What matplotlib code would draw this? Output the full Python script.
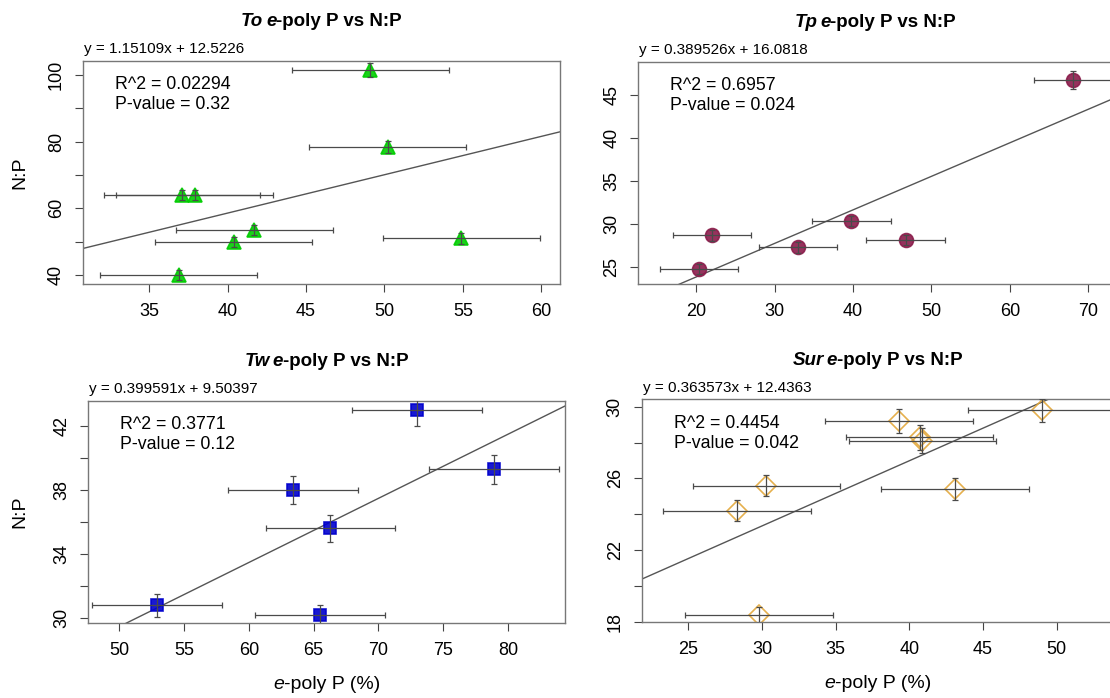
import numpy as np
import matplotlib
matplotlib.use("Agg")
import matplotlib.pyplot as plt

plt.rcParams['font.family'] = ['Liberation Sans', 'DejaVu Sans']

# datos
to_x = [49.1, 50.2, 37.1, 37.9, 41.7, 40.4, 54.9, 36.9]
to_y = [101.5, 78.5, 64.0, 64.0, 53.5, 49.8, 51.0, 40.0]
to_xerr = [5.0, 5.0, 5.0, 5.0, 5.0, 5.0, 5.0, 5.0]
to_yerr = [2.0, 1.8, 1.6, 1.6, 1.5, 1.5, 1.6, 1.5]

tp_x = [68.0, 39.8, 46.7, 33.0, 22.0, 20.4]
tp_y = [46.7, 30.4, 28.2, 27.3, 28.7, 24.8]
tp_xerr = [5.0, 5.0, 5.0, 5.0, 5.0, 5.0]
tp_yerr = [1.05, 0.6, 0.6, 0.6, 0.6, 0.6]

tw_x = [73.0, 78.9, 63.4, 66.3, 52.9, 65.5]
tw_y = [43.0, 39.3, 38.0, 35.6, 30.8, 30.2]
tw_xerr = [5.0, 5.0, 5.0, 5.0, 5.0, 5.0]
tw_yerr = [1.0, 0.9, 0.87, 0.83, 0.7, 0.65]

sur_x = [49.0, 39.3, 40.7, 40.9, 30.3, 43.1, 28.3, 29.8]
sur_y = [29.8, 29.2, 28.3, 28.1, 25.6, 25.4, 24.2, 18.4]
sur_xerr = [5.0, 5.0, 5.0, 5.0, 5.0, 5.0, 5.0, 5.0]
sur_yerr = [0.65, 0.65, 0.7, 0.7, 0.6, 0.6, 0.58, 0.45]

# coeficientes de la regresion (pendiente, intercepto), R^2, p
slopes = [1.15109, 0.389526, 0.399591, 0.363573]
intercepts = [12.5226, 16.0818, 9.50397, 12.4363]
eq_labels = ["y = 1.15109x + 12.5226", "y = 0.389526x + 16.0818",
             "y = 0.399591x + 9.50397", "y = 0.363573x + 12.4363"]
r2_labels = ["0.02294", "0.6957", "0.3771", "0.4454"]
p_labels = ["0.32", "0.024", "0.12", "0.042"]
species = ["To", "Tp", "Tw", "Sur"]

W, H = 1110, 698
fig = plt.figure(figsize=(W / 100, H / 100), dpi=100)
renderer = fig.canvas.get_renderer()


def caja(l, t, r, b):
    return [l / W, 1 - b / H, (r - l) / W, (b - t) / H]


def texto_rico(xc, yb, partes, size):
    # partes: (texto, estilo, peso, espacio_despues)
    gap = size * 100 / 72 * 0.15
    objs = []
    total = 0
    for s, st, wt, esp in partes:
        t = fig.text(0, 0, s, fontsize=size, fontstyle=st, fontweight=wt, va='baseline')
        w = t.get_window_extent(renderer).width
        objs.append((t, w, esp))
        total += w + (gap if esp else 0)
    x = xc - total / 2
    for t, w, esp in objs:
        t.set_position((x / W, 1 - yb / H))
        x += w + (gap if esp else 0)


paneles = [
    dict(x=to_x, y=to_y, xe=to_xerr, ye=to_yerr, box=(83, 61, 560, 284),
         xlim=(30.79, 61.19), ylim=(37.3, 104.2), xt=np.arange(35, 61, 5),
         yt=np.arange(40, 101, 10), ylab=[40, 60, 80, 100],
         marker='^', ms=9.5, fc='#00CD00', ec='#00CD00'),
    dict(x=tp_x, y=tp_y, xe=tp_xerr, ye=tp_yerr, box=(638.3, 61.7, 1112, 284),
         xlim=(12.64, 73.0), ylim=(23.06, 48.86), xt=np.arange(20, 71, 10),
         yt=np.arange(25, 46, 5), ylab=[25, 30, 35, 40, 45],
         marker='o', ms=10, fc='#8B1C4B', ec='#8B1C4B'),
    dict(x=tw_x, y=tw_y, xe=tw_xerr, ye=tw_yerr, box=(88.3, 400.7, 565, 623.3),
         xlim=(47.61, 84.40), ylim=(29.69, 43.56), xt=np.arange(50, 81, 5),
         yt=np.arange(30, 43, 2), ylab=[30, 34, 38, 42],
         marker='s', ms=8.5, fc='#0000CD', ec='#0000CD'),
    dict(x=sur_x, y=sur_y, xe=sur_xerr, ye=sur_yerr, box=(641.7, 399.3, 1114, 622.3),
         xlim=(21.84, 53.9), ylim=(17.97, 30.41), xt=np.arange(25, 51, 5),
         yt=np.arange(18, 31, 2), ylab=[18, 22, 26, 30],
         marker='D', ms=10, fc='none', ec='#E3A83A'),
]

for i, p in enumerate(paneles):
    l, t, r, b = p['box']
    ax = fig.add_axes(caja(l, t, r, b))
    ax.set_xlim(*p['xlim'])
    ax.set_ylim(*p['ylim'])

    # linea de regresion
    xs = np.array(p['xlim'])
    ax.plot(xs, slopes[i] * xs + intercepts[i], color='#555555', lw=1, zorder=1)

    ax.plot(p['x'], p['y'], linestyle='none', marker=p['marker'], ms=p['ms'],
            mfc=p['fc'], mec=p['ec'], mew=1.2, alpha=0.9, zorder=2)
    ax.errorbar(p['x'], p['y'], xerr=p['xe'], yerr=p['ye'], fmt='none',
                ecolor='#4a4a4a', elinewidth=0.9, capsize=2.5, capthick=0.9, zorder=3)

    ax.set_xticks(p['xt'])
    ax.set_yticks(p['yt'])
    ax.set_yticklabels([str(v) if v in p['ylab'] else "" for v in p['yt']])
    ax.tick_params(axis='both', direction='out', length=6, width=0.8,
                   color='#444444', labelsize=13)
    ax.tick_params(axis='x', pad=7.5)
    ax.tick_params(axis='y', pad=7)
    for lab in ax.get_yticklabels():
        lab.set_rotation(90)
        lab.set_va('center')
    for sp in ax.spines.values():
        sp.set_color('#777777')
        sp.set_linewidth(1)

    # textos
    fig.text((l + 1) / W, 1 - (t - 7.5) / H, eq_labels[i], fontsize=11, va='baseline')
    fig.text((l + 32) / W, 1 - (t + 28.3) / H, "R^2 = " + r2_labels[i], fontsize=12.8, va='baseline')
    fig.text((l + 32) / W, 1 - (t + 48.3) / H, "P-value = " + p_labels[i], fontsize=12.8, va='baseline')

    texto_rico((l + r) / 2, t - 34.5,
               [(species[i], 'italic', 'bold', True), ("e", 'italic', 'bold', False),
                ("-poly P vs N:P", 'normal', 'bold', False)], 13.5)

    if i >= 2:
        texto_rico((l + r) / 2, b + 66,
                   [("e", 'italic', 'normal', False), ("-poly P (%)", 'normal', 'normal', False)], 14)
    if i % 2 == 0:
        fig.text(20 / W, 1 - ((t + b) / 2) / H, "N:P", fontsize=14, rotation=90,
                 ha='center', va='center')

fig.savefig("out.png", dpi=100)
